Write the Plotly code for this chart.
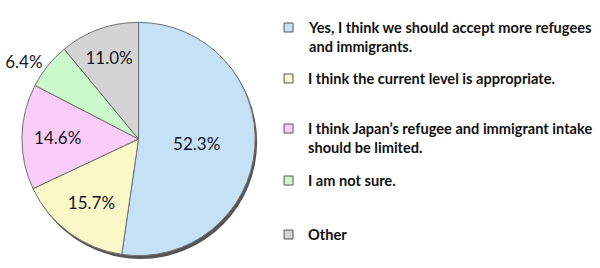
import plotly.graph_objects as go

labels = [
    "Yes, I think we should accept more refugees<br>and immigrants.",
    "I think the current level is appropriate.",
    "I think Japan\u2019s refugee and immigrant intake<br>should be limited.",
    "I am not sure.",
    "Other",
]
values = [52.3, 15.7, 14.6, 6.4, 11.0]
colors = ["#C4E1F5", "#FAF8C9", "#F9CCF9", "#CCF9CC", "#D4D4D4"]
text_pos = ["inside", "inside", "inside", "outside", "inside"]
legend_y = [17, 68, 118, 170, 224]  # top of legend entries, px

W, H = 600, 268
FONT = "Lato"

# pie geometry in px
cx, cy, r = 137, 139, 117

fig = go.Figure()

fig.add_trace(go.Pie(
    values=values,
    labels=labels,
    marker=dict(colors=colors, line=dict(color="#707070", width=1)),
    sort=False,
    direction="clockwise",
    rotation=0,
    texttemplate="%{value:.1f}%",
    textposition=text_pos,
    insidetextorientation="horizontal",
    textfont=dict(family=FONT, size=17, color="#15151f"),
    domain=dict(x=[(cx - r) / W, (cx + r) / W], y=[1 - (cy + r) / H, 1 - (cy - r) / H]),
    showlegend=False,
    hoverinfo="skip",
))

shapes = [
    dict(type="circle", xref="paper", yref="paper", layer="below",
         x0=(cx - r + 2) / W, x1=(cx + r + 2) / W,
         y0=1 - (cy + r + 3) / H, y1=1 - (cy - r + 3) / H,
         fillcolor="#555555", line=dict(width=0)),
]
annotations = []
for lab, col, ty in zip(labels, colors, legend_y):
    shapes.append(dict(type="rect", xref="paper", yref="paper",
                       x0=283 / W, x1=292 / W,
                       y0=1 - (ty + 15) / H, y1=1 - (ty + 6) / H,
                       fillcolor=col, line=dict(color="#555555", width=1)))
    annotations.append(dict(text="<b>" + lab + "</b>", xref="paper", yref="paper",
                            x=305 / W, y=1 - ty / H, xanchor="left", yanchor="top",
                            align="left", showarrow=False,
                            font=dict(family=FONT, size=14.6, color="#111111")))

fig.update_layout(
    width=W, height=H,
    margin=dict(l=0, r=0, t=0, b=0),
    paper_bgcolor="white", plot_bgcolor="white",
    shapes=shapes, annotations=annotations,
)

fig.write_html("out.html")
